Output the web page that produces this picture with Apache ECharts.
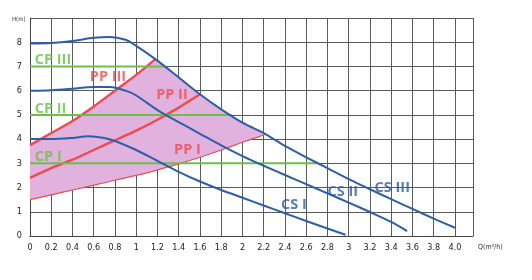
<!DOCTYPE html>
<html><head><meta charset="utf-8">
<script src="https://cdn.jsdelivr.net/npm/echarts@6/dist/echarts.min.js"></script>
<style>html,body{margin:0;padding:0;background:#fff}#c{width:532px;height:280px}</style>
</head><body><div id="c"></div>
<script>
// Data (x = Q m³/h, y = H m)
var csIII = [[0,7.95],[0.2,7.97],[0.4,8.05],[0.6,8.18],[0.75,8.22],[0.9,8.1],[1.0,7.85],[1.18,7.3],[1.4,6.55],[1.6,5.85],[1.8,5.23],[2.0,4.68],[2.22,4.2],[2.4,3.72],[2.6,3.25],[2.8,2.8],[3.0,2.35],[3.2,1.93],[3.4,1.52],[3.6,1.12],[3.8,0.72],[4.0,0.34]];
var csII = [[0,6.0],[0.2,6.02],[0.4,6.08],[0.6,6.15],[0.75,6.15],[0.9,6.0],[1.0,5.8],[1.2,5.2],[1.4,4.7],[1.6,4.22],[1.8,3.74],[2.0,3.3],[2.2,2.9],[2.4,2.52],[2.6,2.14],[2.8,1.76],[3.0,1.38],[3.2,0.99],[3.4,0.58],[3.55,0.2]];
var csI = [[0,4.0],[0.2,4.0],[0.4,4.05],[0.55,4.12],[0.7,4.05],[0.8,3.92],[1.0,3.55],[1.2,3.1],[1.4,2.65],[1.6,2.25],[1.8,1.9],[2.0,1.58],[2.2,1.26],[2.4,0.94],[2.6,0.62],[2.8,0.31],[2.97,0.05]];
var ppIII = [[0,3.75],[0.2,4.25],[0.4,4.75],[0.6,5.35],[0.8,6.0],[1.0,6.65],[1.18,7.3]];
var ppII = [[0,2.4],[0.2,2.8],[0.4,3.15],[0.6,3.55],[0.8,3.95],[1.0,4.35],[1.2,4.8],[1.4,5.3],[1.6,5.85]];
var ppI = [[0,1.5],[0.2,1.7],[0.4,1.9],[0.6,2.1],[0.8,2.3],[1.0,2.5],[1.2,2.73],[1.4,2.98],[1.6,3.25],[1.8,3.55],[2.0,3.87],[2.22,4.2]];
var cpIII = [[0,7],[1.27,7]];
var cpII = [[0,5],[1.9,5]];
var cpI = [[0,3],[2.69,3]];
var labels = [
  {name:'CP III', value:[0.216,7.28], color:'#6cbf4a'},
  {name:'CP II', value:[0.193,5.26], color:'#6cbf4a'},
  {name:'CP I', value:[0.172,3.26], color:'#6cbf4a'},
  {name:'PP III', value:[0.734,6.58], color:'#ef4a4f'},
  {name:'PP II', value:[1.336,5.82], color:'#ef4a4f'},
  {name:'PP I', value:[1.482,3.55], color:'#ef4a4f'},
  {name:'CS I', value:[2.484,1.30], color:'#2d5ea8'},
  {name:'CS II', value:[2.945,1.84], color:'#2d5ea8'},
  {name:'CS III', value:[3.41,1.98], color:'#2d5ea8'}
];
var xMax = 4.17, yMax = 9;

// fill polygon: PP I, then CS III back to PP III end, then PP III reversed
var csSeg = csIII.filter(function(p){return p[0] >= 1.18 && p[0] <= 2.22;}).slice().reverse();
var fillPoly = ppI.concat(csSeg.slice(1)).concat(ppIII.slice().reverse().slice(1));

var blue = '#2d5ea8', red = '#ef4a4f', green = '#6cbf4a';
var chart = echarts.init(document.getElementById('c'));
function line(data, color, width, smooth, z){
  return {type:'line', data:data, symbol:'none', smooth:smooth, lineStyle:{color:color, width:width}, z:z, silent:true};
}
var tickFont = 'Liberation Sans Narrow, DejaVu Sans Condensed, sans-serif';
chart.setOption({
  animation:false,
  grid:{left:30, right:59, top:18, bottom:44},
  xAxis:{type:'value', min:0, max:xMax, interval:0.2,
    axisLine:{show:true, lineStyle:{color:'#444', width:1}}, axisTick:{show:false},
    splitLine:{show:true, lineStyle:{color:'#5a5a5a', width:1}},
    axisLabel:{showMaxLabel:false, color:'#222', fontSize:9, fontFamily:tickFont, margin:7,
      formatter:function(v){ var r=Math.round(v*10)/10; if(r===4) return '4.0'; return String(r);} }
  },
  yAxis:{type:'value', min:0, max:yMax, interval:1,
    axisLine:{show:true, lineStyle:{color:'#444', width:1}}, axisTick:{show:false},
    splitLine:{show:true, lineStyle:{color:'#5a5a5a', width:1}},
    axisLabel:{showMaxLabel:false, color:'#222', fontSize:9, fontFamily:tickFont, margin:8}
  },
  graphic:[
    {type:'text', left:12, top:16, style:{text:'H(m)', fontSize:6, fill:'#333', fontFamily:tickFont}},
    {type:'text', left:478, top:244, style:{text:'Q(m³/h)', fontSize:7, fill:'#333', fontFamily:tickFont}}
  ],
  series:[
    {type:'custom', silent:true, z:1, data:[0],
      renderItem:function(params, api){
        var pts = fillPoly.map(function(p){return api.coord(p);});
        return {type:'polygon', shape:{points:pts}, style:{fill:'#e0b2dd', opacity:1}};
      }},
    line(ppI, red, 1.2, 0.25, 3),
    line(ppII, red, 2.4, 0.25, 3),
    line(ppIII, red, 2.4, 0.25, 3),
    line(cpIII, green, 2, false, 4),
    line(cpII, green, 2, false, 4),
    line(cpI, green, 2, false, 4),
    line(csIII, blue, 2, 0.3, 5),
    line(csII, blue, 2, 0.3, 5),
    line(csI, blue, 2, 0.3, 5),
    {type:'scatter', symbolSize:0, z:6, silent:true,
      data:labels.map(function(l){return {name:l.name, value:l.value, label:{color:l.color}};}),
      label:{show:true, position:'inside', formatter:'{b}', fontSize:14.5, fontWeight:'bold', fontFamily:'Open Sans, sans-serif'}}
  ]
});
</script></body></html>
